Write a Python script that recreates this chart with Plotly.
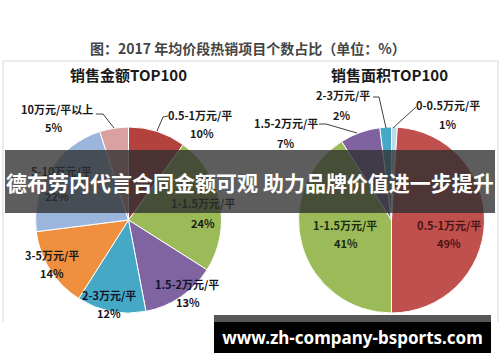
import plotly.graph_objects as go

W, H = 500, 362

# ---- data ----
left_labels = ["0.5-1万元/平", "1-1.5万元/平", "1.5-2万元/平", "2-3万元/平",
               "3-5万元/平", "5-10万元/平", "10万元/平以上"]
left_values = [10, 24, 13, 12, 14, 22, 5]
right_labels = ["0-0.5万元/平", "0.5-1万元/平", "1-1.5万元/平", "1.5-2万元/平", "2-3万元/平"]
right_values = [1, 49, 41, 7, 2]

title_text = "图：2017 年均价段热销项目个数占比（单位：%）"
left_title = "销售金额TOP100"
right_title = "销售面积TOP100"
banner_text = "德布劳内代言合同金额可观 助力品牌价值进一步提升"
footer_text = "www.zh-company-bsports.com"

# ---- styles ----
left_colors = ["#B3423F", "#9BBB59", "#8064A2", "#45A8C4", "#F0903F", "#9CB5DC", "#DBA1A0"]
right_colors = ["#B9DCEB", "#C0504D", "#9BBB59", "#7E63A0", "#45A8C4"]

# label anchor positions in pixels (name, pct)
left_pos = [((200, 115), (202, 133)), ((203, 203), (203, 223)), ((187, 284), (188, 302)),
            ((109, 295), (109, 313)), ((52, 255), (52, 273)), ((61, 171), (57, 196)),
            ((57, 109), (53, 127))]
right_pos = [((448, 105), (447, 124)), ((449, 225), (449, 243)), ((345, 225), (346, 243)),
             ((286, 123), (285, 143)), ((343, 95), (341, 115))]
left_txtcol = ["#1a1a1a", "#1a1a1a", "#14142a", "#14142a", "#1a1a1a", "#1a1a1a", "#1a1a1a"]
right_txtcol = ["#1a1a1a", "#4a1414", "#1c2a10", "#1a1a1a", "#1a1a1a"]

FONT = "Noto Sans CJK SC"


def px(x, y):
    return x / W, 1 - y / H


def dom(cx, cy, r):
    return dict(x=[(cx - r) / W, (cx + r) / W], y=[1 - (cy + r) / H, 1 - (cy - r) / H])


fig = go.Figure()
fig.add_trace(go.Pie(labels=left_labels, values=left_values, sort=False, direction="clockwise",
                     rotation=0, textinfo="none", hoverinfo="label+percent",
                     marker=dict(colors=left_colors, line=dict(color="white", width=1)),
                     domain=dom(128.5, 220, 93), showlegend=False))
fig.add_trace(go.Pie(labels=right_labels, values=right_values, sort=False, direction="clockwise",
                     rotation=0, textinfo="none", hoverinfo="label+percent",
                     marker=dict(colors=right_colors, line=dict(color="white", width=1)),
                     domain=dom(391.5, 220, 93), showlegend=False))

annotations = []


def ann(text, x, y, size, color, bold=True, family=FONT, **kw):
    ax, ay = px(x, y)
    t = f"<b>{text}</b>" if bold else text
    annotations.append(dict(text=t, x=ax, y=ay, xref="paper", yref="paper",
                            xanchor="center", yanchor="middle", showarrow=False,
                            font=dict(family=family, size=size, color=color), **kw))


ann(title_text, 248, 48, 14, "#454545")
ann(left_title, 128, 75, 15, "#1a1a1a")
ann(right_title, 389, 75, 15, "#1a1a1a")

for lab, val, (p1, p2), c in zip(left_labels, left_values, left_pos, left_txtcol):
    ann(lab, p1[0], p1[1], 11, c)
    ann(f"{val}%", p2[0], p2[1], 11, c)
for lab, val, (p1, p2), c in zip(right_labels, right_values, right_pos, right_txtcol):
    ann(lab, p1[0], p1[1], 11, c)
    ann(f"{val}%", p2[0], p2[1], 11, c)

# overlay banner (drawn after labels so it covers them)
bx, by = px(250, 181.5)
annotations.append(dict(text=f"<b>{banner_text}</b>", x=bx, y=by, xref="paper", yref="paper",
                        xanchor="center", yanchor="middle", showarrow=False,
                        width=490, height=63, borderpad=0, borderwidth=0,
                        bgcolor="rgba(48,48,48,0.78)",
                        font=dict(family=FONT, size=21, color="white")))
# footer
fx, fy = px(352.5, 337.5)
annotations.append(dict(text=f"<b>{footer_text}</b>", x=fx, y=fy, xref="paper", yref="paper",
                        xanchor="center", yanchor="middle", showarrow=False,
                        width=277, height=31, borderpad=0, borderwidth=0,
                        bgcolor="#000000",
                        font=dict(family="Noto Sans", size=17, color="white")))

shapes = []


def line_path(points, color="#404040", width=1):
    d = ""
    for i, (x, y) in enumerate(points):
        d += ("M" if i == 0 else "L") + f"{x},{H - y} "
    shapes.append(dict(type="path", path=d.strip(), xref="x", yref="y",
                       line=dict(color=color, width=width), layer="above"))


# frame (left, top, right)
line_path([(3, 322), (3, 61), (498, 61), (498, 322)], color="#D6D6D6", width=1)
# leader lines
line_path([(96, 114), (103, 114), (114, 128)])
line_path([(168, 116), (163, 117), (157, 131)])
line_path([(373, 97), (379, 97), (386, 128)])
line_path([(416, 107), (393, 128)])
line_path([(319, 124), (326, 124), (357, 133)])
# footer top strip
shapes.append(dict(type="rect", xref="x", yref="y", x0=214, x1=491, y0=H - 322, y1=H - 315,
                   fillcolor="#575757", line=dict(width=0), layer="above"))

fig.update_layout(
    width=W, height=H, margin=dict(l=0, r=0, t=0, b=0),
    paper_bgcolor="white", plot_bgcolor="rgba(0,0,0,0)",
    xaxis=dict(range=[0, W], visible=False, fixedrange=True),
    yaxis=dict(range=[0, H], visible=False, fixedrange=True),
    annotations=annotations, shapes=shapes, showlegend=False,
)

fig.write_html("out.html")
